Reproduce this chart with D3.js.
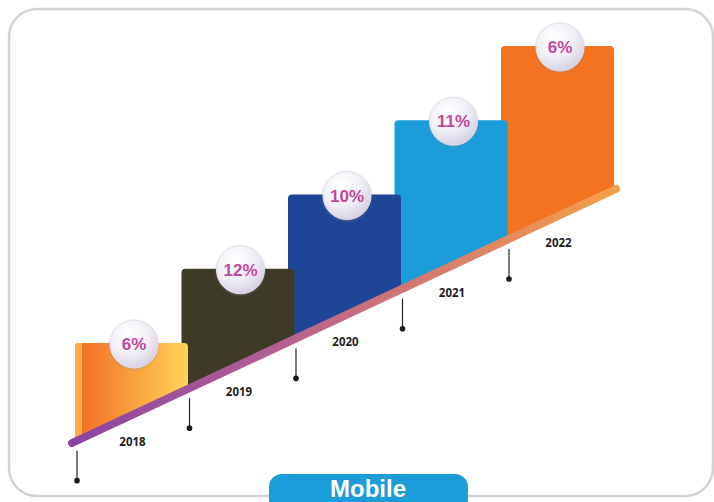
<!DOCTYPE html>
<html>
<head>
<meta charset="utf-8">
<script src="https://cdn.jsdelivr.net/npm/d3@7"></script>
<style>
  html, body { margin: 0; padding: 0; background: #fff; }
  svg { display: block; }
</style>
</head>
<body>
<div id="chart"></div>
<script>
const years = ['2018', '2019', '2020', '2021', '2022']
const growth = [6, 12, 10, 11, 6]
const barColors = ['url(#grad2018)', '#3e3a28', '#1f4596', '#1c9cd8', '#f37321']
const title = 'Mobile'

const width = 714
const height = 502

const svg = d3.select('#chart').append('svg')
  .attr('width', width)
  .attr('height', height)

const defs = svg.append('defs')

const g2018 = defs.append('linearGradient').attr('id', 'grad2018')
g2018.append('stop').attr('offset', '0%').attr('stop-color', '#f26a24')
g2018.append('stop').attr('offset', '100%').attr('stop-color', '#ffd458')

const gLine = defs.append('linearGradient').attr('id', 'gradLine')
  .attr('gradientUnits', 'userSpaceOnUse')
  .attr('x1', 70).attr('x2', 620).attr('y1', 0).attr('y2', 0)
;[['0%', '#8c449f'], ['35%', '#b05d96'], ['65%', '#d57b70'], ['100%', '#f4a146']]
  .forEach(([o, c]) => gLine.append('stop').attr('offset', o).attr('stop-color', c))

const gBall = defs.append('radialGradient').attr('id', 'gradBall')
  .attr('cx', '38%').attr('cy', '30%').attr('r', '75%')
gBall.append('stop').attr('offset', '0%').attr('stop-color', '#ffffff')
gBall.append('stop').attr('offset', '55%').attr('stop-color', '#f1eff6')
gBall.append('stop').attr('offset', '100%').attr('stop-color', '#d3cee2')

const shadow = defs.append('filter').attr('id', 'ballShadow')
  .attr('x', '-30%').attr('y', '-30%').attr('width', '160%').attr('height', '160%')
shadow.append('feDropShadow')
  .attr('dx', 0).attr('dy', 1).attr('stdDeviation', 1.2)
  .attr('flood-color', '#8a86a0').attr('flood-opacity', 0.45)

// frame
svg.append('rect')
  .attr('x', 9).attr('y', 9)
  .attr('width', 704).attr('height', 487)
  .attr('rx', 28)
  .attr('fill', 'none')
  .attr('stroke', '#d3d3d3')
  .attr('stroke-width', 2.5)

// scales
const x = d3.scaleBand()
  .domain(years)
  .range([75, 75 + 106.5 * years.length])
  .paddingInner(0)
const barW = x.bandwidth() + 6.5

const yTop = d3.scalePoint()
  .domain(years)
  .range([343, 46])

// the diagonal base line
const base = d3.scaleLinear()
  .domain([72, 616])
  .range([443, 189])

const rad = 4
const barPath = d => {
  const x0 = x(d), x1 = x0 + barW, t = yTop(d)
  return `M${x0},${base(x0)}L${x0},${t + rad}Q${x0},${t} ${x0 + rad},${t}` +
    `L${x1 - rad},${t}Q${x1},${t} ${x1},${t + rad}L${x1},${base(x1)}Z`
}

// bars, earlier years in front
const bars = svg.append('g')
years.slice().reverse().forEach(yr => {
  const i = years.indexOf(yr)
  bars.append('path')
    .attr('d', barPath(yr))
    .attr('fill', barColors[i])
  if (i === 0) {
    // lighter left edge of the first step
    const x0 = x(yr), t = yTop(yr)
    bars.append('path')
      .attr('d', `M${x0},${base(x0)}L${x0},${t + rad}Q${x0},${t} ${x0 + rad},${t}L${x0 + 7},${t}L${x0 + 7},${base(x0 + 7)}Z`)
      .attr('fill', '#fbb03f')
  }
})

// diagonal line
svg.append('line')
  .attr('x1', 72).attr('y1', base(72))
  .attr('x2', 616).attr('y2', base(616))
  .attr('stroke', 'url(#gradLine)')
  .attr('stroke-width', 8)
  .attr('stroke-linecap', 'round')

// pins
const pinX = (d, i) => i === 0 ? x(d) + 2 : x(years[i - 1]) + barW + 1.5
const pins = svg.append('g')
years.forEach((yr, i) => {
  const px = pinX(yr, i)
  const y0 = base(px) + 10
  pins.append('line')
    .attr('x1', px).attr('x2', px)
    .attr('y1', y0).attr('y2', y0 + 30)
    .attr('stroke', '#222')
    .attr('stroke-width', 1.2)
  pins.append('circle')
    .attr('cx', px).attr('cy', y0 + 30)
    .attr('r', 2.8)
    .attr('fill', '#1a1a1a')
})

// year labels
svg.append('g')
  .selectAll('text')
  .data(years)
  .join('text')
  .attr('x', d => x(d) + barW / 2 + 1)
  .attr('y', d => base(x(d) + barW / 2 + 1) + 31)
  .attr('text-anchor', 'middle')
  .attr('font-family', '"Open Sans", sans-serif')
  .attr('font-weight', 700)
  .attr('font-size', 11.5)
  .attr('fill', '#1e1e1e')
  .text(d => d)

// value balls
const balls = svg.append('g')
  .selectAll('g')
  .data(years)
  .join('g')
  .attr('transform', d => `translate(${x(d) + barW / 2 + 2.5},${yTop(d) + 1})`)

balls.append('circle')
  .attr('r', 24)
  .attr('fill', 'url(#gradBall)')
  .attr('stroke', '#e2dfea')
  .attr('stroke-width', 1)
  .attr('filter', 'url(#ballShadow)')

balls.append('text')
  .attr('y', 6)
  .attr('text-anchor', 'middle')
  .attr('font-family', '"Liberation Sans", Arial, sans-serif')
  .attr('font-weight', 700)
  .attr('font-size', 17)
  .attr('fill', '#c0479b')
  .text((d, i) => growth[i] + '%')

// title button
svg.append('rect')
  .attr('x', 269).attr('y', 474)
  .attr('width', 199).attr('height', 44)
  .attr('rx', 13)
  .attr('fill', '#1c9cd8')

svg.append('text')
  .attr('x', 368).attr('y', 497)
  .attr('text-anchor', 'middle')
  .attr('font-family', '"Liberation Sans", Arial, sans-serif')
  .attr('font-weight', 700)
  .attr('font-size', 24)
  .attr('fill', '#fff')
  .text(title)
</script>
</body>
</html>
